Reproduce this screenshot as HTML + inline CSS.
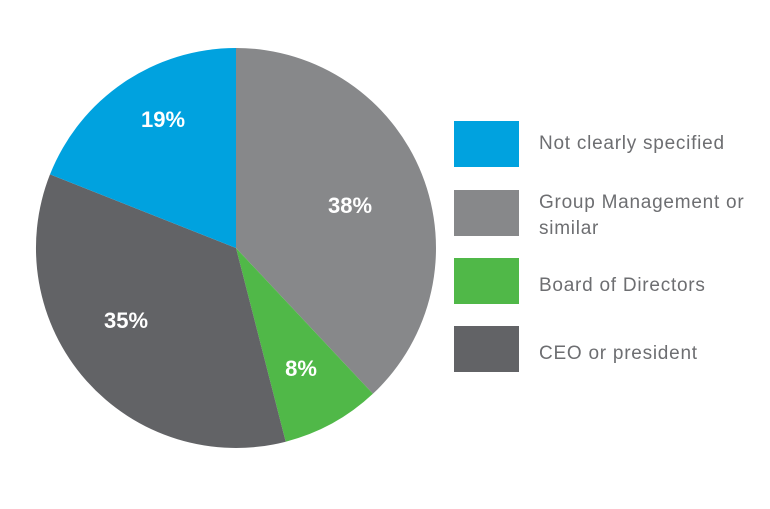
<!DOCTYPE html>
<html><head><meta charset="utf-8"><style>
html,body{margin:0;padding:0;background:#fff;}
body{width:770px;height:504px;overflow:hidden;font-family:"Liberation Sans",sans-serif;}
</style></head><body>
<svg width="770" height="504" xmlns="http://www.w3.org/2000/svg">
<path d="M236,248 L236,48 A200,200 0 0 1 372.9,393.8 Z" fill="#87888a"/>
<path d="M236,248 L372.9,393.8 A200,200 0 0 1 285.7,441.7 Z" fill="#50b848"/>
<path d="M236,248 L285.7,441.7 A200,200 0 0 1 50,174.4 Z" fill="#626366"/>
<path d="M236,248 L50,174.4 A200,200 0 0 1 236,48 Z" fill="#00a2df"/>
<g fill="#fff" font-weight="bold" font-size="22" text-anchor="middle">
<text x="163" y="127">19%</text>
<text x="350" y="213">38%</text>
<text x="301" y="376">8%</text>
<text x="126" y="328">35%</text>
</g>
<rect x="454" y="121" width="65" height="46" fill="#00a2df"/>
<rect x="454" y="190" width="65" height="46" fill="#87888a"/>
<rect x="454" y="258" width="65" height="46" fill="#50b848"/>
<rect x="454" y="326" width="65" height="46" fill="#626366"/>
<g fill="#6d6e71" font-size="19" letter-spacing="0.75">
<text x="539" y="149">Not clearly specified</text>
<text x="539" y="208">Group Management or</text>
<text x="539" y="234">similar</text>
<text x="539" y="291">Board of Directors</text>
<text x="539" y="359">CEO or president</text>
</g>
</svg>
</body></html>
